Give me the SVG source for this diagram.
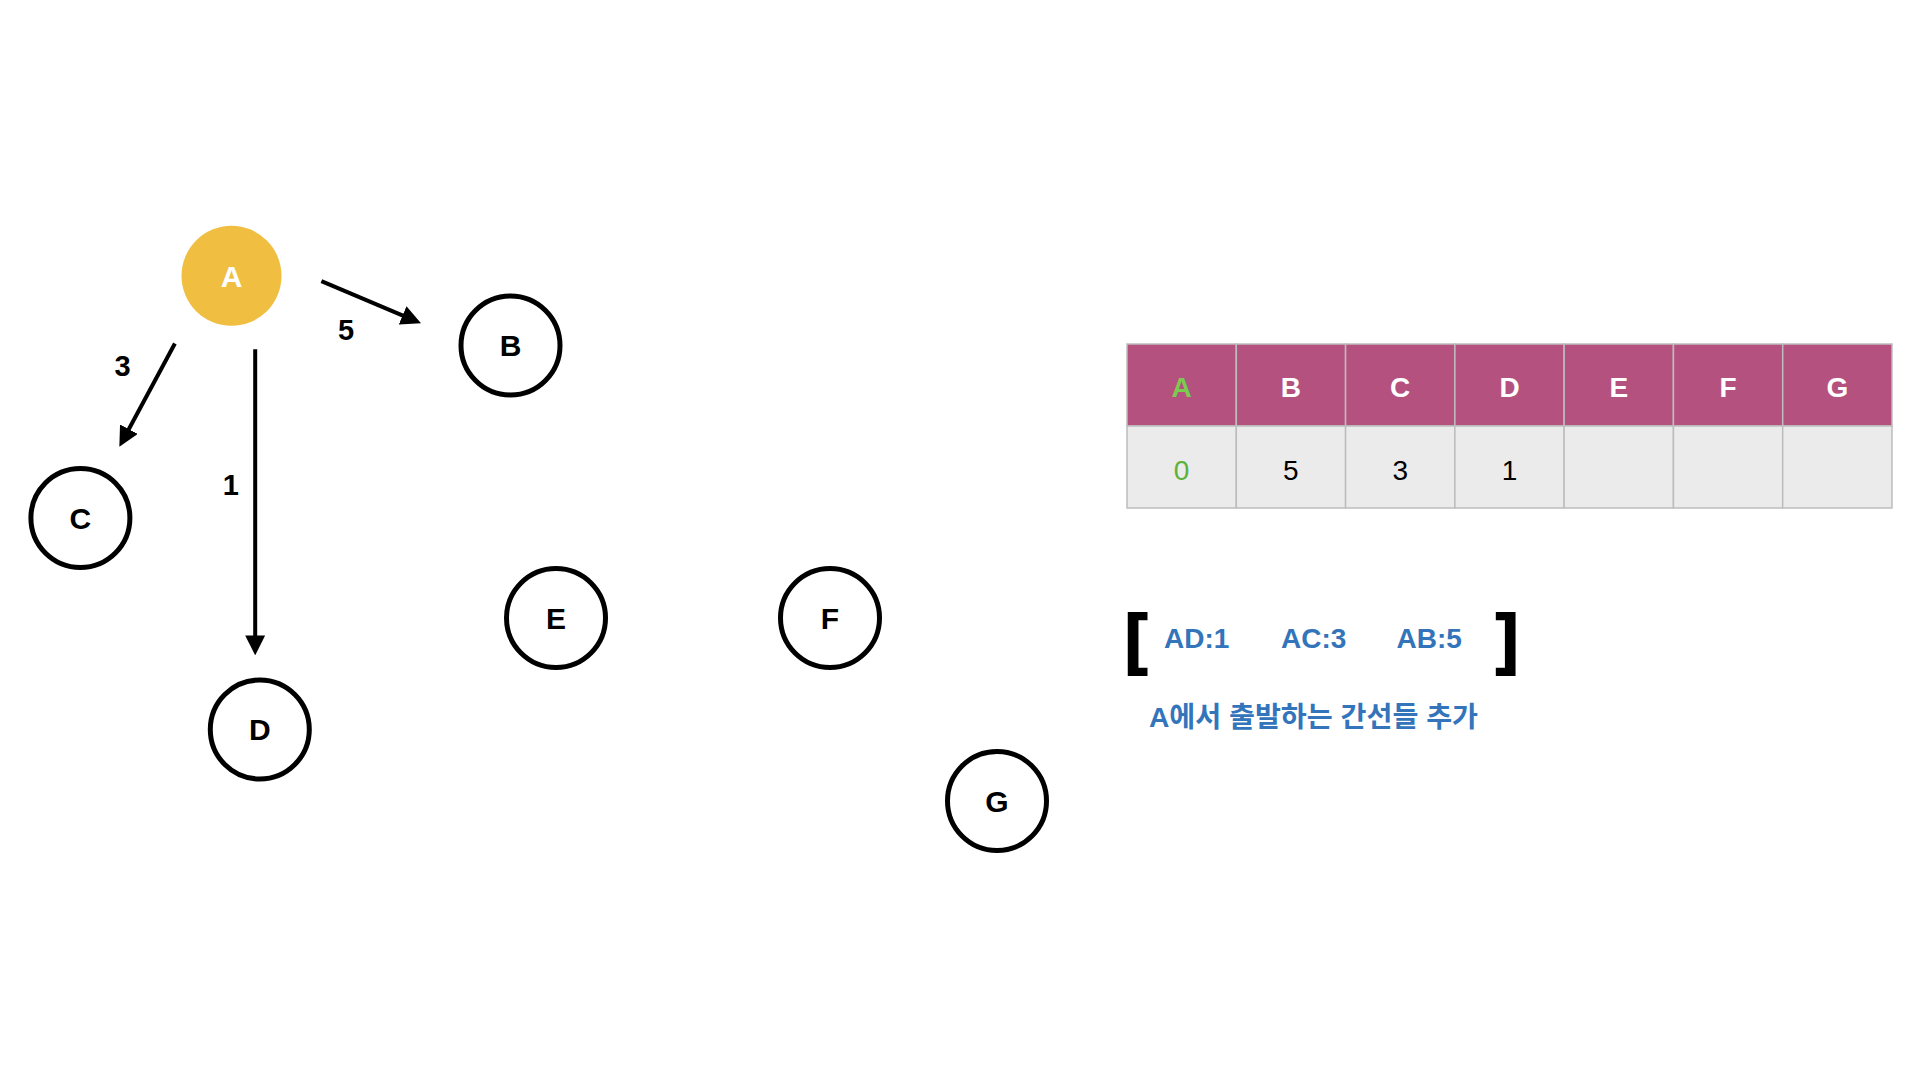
<svg xmlns="http://www.w3.org/2000/svg" width="1920" height="1080" viewBox="0 0 1920 1080">
<style>
.node{fill:#fff;stroke:#000;stroke-width:5}
.lbl{font-family:"Liberation Sans",Arial,sans-serif;font-weight:bold;font-size:30px;text-anchor:middle;fill:#000}
.edge{stroke:#000;stroke-width:4;fill:none;marker-end:url(#arr)}
.wt{font-family:"Liberation Sans",Arial,sans-serif;font-weight:bold;font-size:29px;text-anchor:middle;fill:#000}
.hd{fill:#B4517F;stroke:#BDBDBD;stroke-width:1.5}
.bd{fill:#EBEBEB;stroke:#BDBDBD;stroke-width:1.5}
.ht{font-family:"Liberation Sans",Arial,sans-serif;font-weight:bold;font-size:28px;text-anchor:middle;fill:#fff}
.vt{font-family:"Liberation Sans",Arial,sans-serif;font-size:28px;text-anchor:middle;fill:#000}
.bl{font-family:"Liberation Sans",Arial,sans-serif;font-weight:bold;font-size:28px;fill:#3374BA}
.br{font-family:"Liberation Sans",Arial,sans-serif;font-weight:bold;font-size:67px;fill:#000;stroke:#000;stroke-width:2}
</style>
<defs>
<marker id="arr" markerUnits="userSpaceOnUse" viewBox="0 0 20 20" markerWidth="20" markerHeight="20" refX="10" refY="10" orient="auto">
<path d="M0,0 L20,10 L0,20 z" fill="#000"/>
</marker>
</defs>
<rect width="1920" height="1080" fill="#fff"/>
<g id="connectors">
<line class="edge" x1="321.4" y1="281.1" x2="411.8" y2="319.3"/>
<line class="edge" x1="174.9" y1="343.5" x2="124.1" y2="438"/>
<line class="edge" x1="255.2" y1="349.2" x2="255.2" y2="645.4"/>
<text class="wt" x="346" y="340">5</text>
<text class="wt" x="122.5" y="376">3</text>
<text class="wt" x="230.7" y="494.5">1</text>
</g>
<g id="node-A"><circle cx="231.5" cy="275.8" r="50" fill="#F0BE41"/><text class="lbl" x="231.5" y="286.5" style="fill:#fff">A</text></g>
<g id="node-B"><circle class="node" cx="510.5" cy="345.4" r="49.5"/><text class="lbl" x="510.5" y="356">B</text></g>
<g id="node-C"><circle class="node" cx="80.4" cy="518" r="49.5"/><text class="lbl" x="80.4" y="528.7">C</text></g>
<g id="node-D"><circle class="node" cx="259.8" cy="729.5" r="49.5"/><text class="lbl" x="259.8" y="740.2">D</text></g>
<g id="node-E"><circle class="node" cx="556" cy="618" r="49.5"/><text class="lbl" x="556" y="628.7">E</text></g>
<g id="node-F"><circle class="node" cx="830" cy="618" r="49.5"/><text class="lbl" x="830" y="628.7">F</text></g>
<g id="node-G"><circle class="node" cx="997" cy="801" r="49.5"/><text class="lbl" x="997" y="811.7">G</text></g>
<g id="table">
<rect class="hd" x="1127" y="344" width="109.29" height="82"/>
<rect class="hd" x="1236.29" y="344" width="109.29" height="82"/>
<rect class="hd" x="1345.57" y="344" width="109.29" height="82"/>
<rect class="hd" x="1454.86" y="344" width="109.29" height="82"/>
<rect class="hd" x="1564.14" y="344" width="109.29" height="82"/>
<rect class="hd" x="1673.43" y="344" width="109.29" height="82"/>
<rect class="hd" x="1782.71" y="344" width="109.29" height="82"/>
<rect class="bd" x="1127" y="426" width="109.29" height="82"/>
<rect class="bd" x="1236.29" y="426" width="109.29" height="82"/>
<rect class="bd" x="1345.57" y="426" width="109.29" height="82"/>
<rect class="bd" x="1454.86" y="426" width="109.29" height="82"/>
<rect class="bd" x="1564.14" y="426" width="109.29" height="82"/>
<rect class="bd" x="1673.43" y="426" width="109.29" height="82"/>
<rect class="bd" x="1782.71" y="426" width="109.29" height="82"/>
<text class="ht" x="1181.6" y="396.5" style="fill:#7ACB4F">A</text>
<text class="ht" x="1290.9" y="396.5">B</text>
<text class="ht" x="1400.2" y="396.5">C</text>
<text class="ht" x="1509.5" y="396.5">D</text>
<text class="ht" x="1618.8" y="396.5">E</text>
<text class="ht" x="1728.1" y="396.5">F</text>
<text class="ht" x="1837.4" y="396.5">G</text>
<text class="vt" x="1181.6" y="480" style="fill:#5DB23A">0</text>
<text class="vt" x="1290.9" y="480">5</text>
<text class="vt" x="1400.2" y="480">3</text>
<text class="vt" x="1509.5" y="480">1</text>
</g>
<g id="queue">
<text class="br" x="1125" y="661">[</text>
<text class="br" x="1496" y="661">]</text>
<text class="bl" x="1164" y="648.3">AD:1</text>
<text class="bl" x="1281" y="648.3">AC:3</text>
<text class="bl" x="1396.5" y="648.3">AB:5</text>
<text class="bl" x="1149" y="726.5" style="font-family:'Liberation Sans','Noto Sans CJK KR',sans-serif" textLength="329" lengthAdjust="spacingAndGlyphs">A에서 출발하는 간선들 추가</text>
</g>
</svg>
